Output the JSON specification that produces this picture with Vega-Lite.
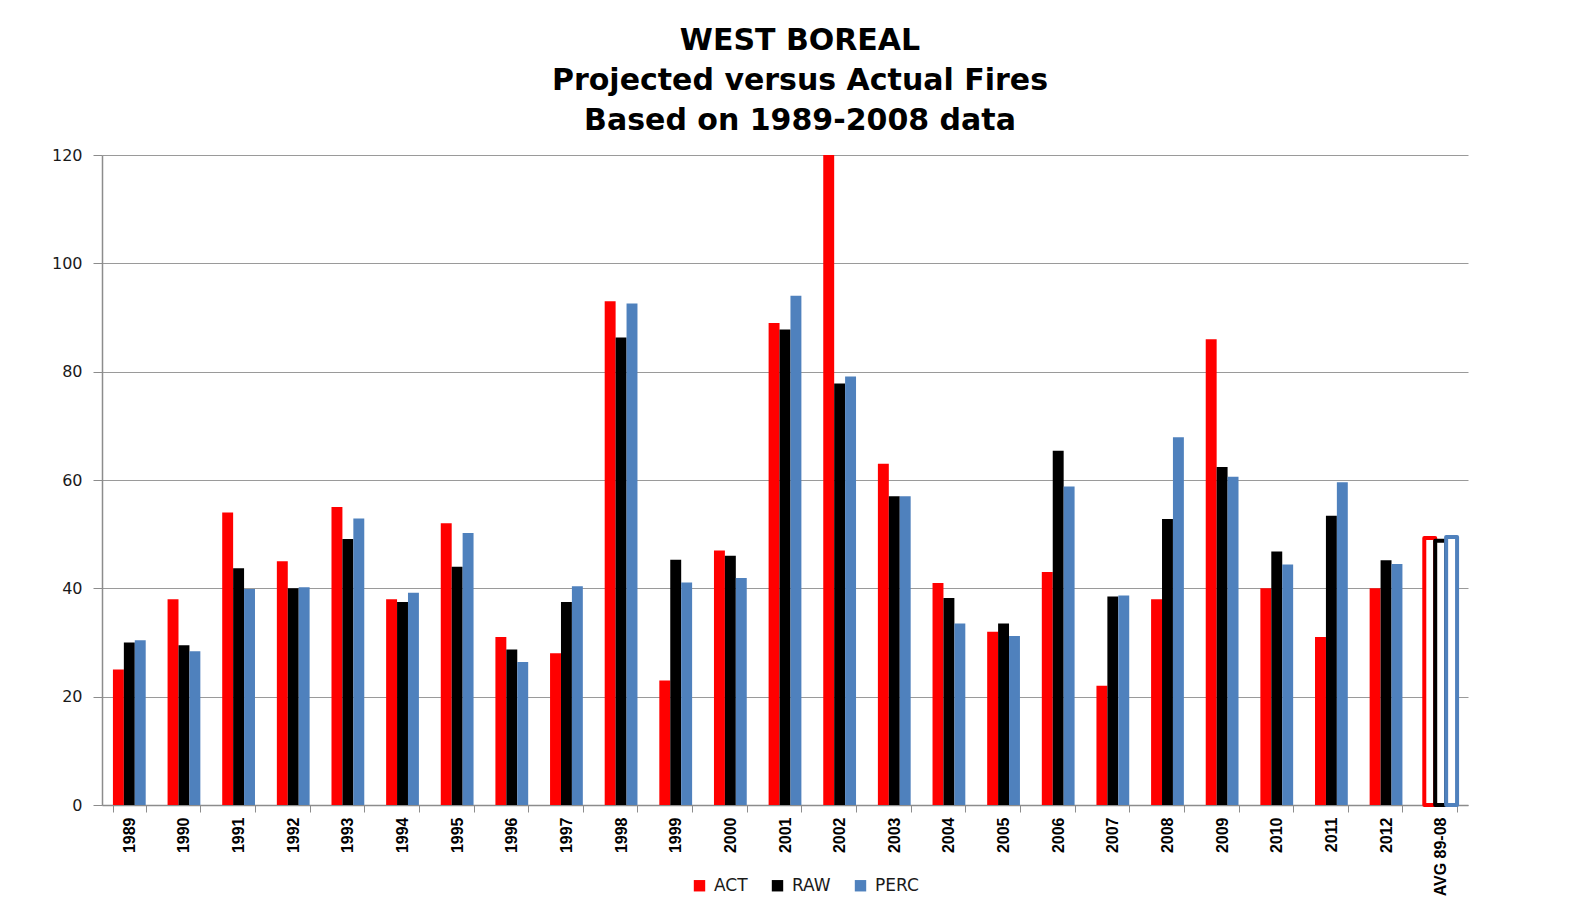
{
  "$schema": "https://vega.github.io/schema/vega-lite/v6.json",
  "autosize": {"type": "none"},
  "width": 1366,
  "height": 650,
  "padding": {"left": 102, "top": 155, "right": 109, "bottom": 105},
  "background": "#ffffff",
  "title": {
    "text": ["WEST BOREAL", "Projected versus Actual Fires", "Based on 1989-2008 data"],
    "font": "DejaVu Sans",
    "fontSize": 30,
    "fontWeight": "bold",
    "lineHeight": 40,
    "color": "#000000",
    "anchor": "middle",
    "frame": "group",
    "dx": 15,
    "offset": 11
  },
  "data": {
    "values": [
      {"year": "1989", "ACT": 25, "RAW": 30.0, "PERC": 30.4},
      {"year": "1990", "ACT": 38, "RAW": 29.5, "PERC": 28.4},
      {"year": "1991", "ACT": 54, "RAW": 43.7, "PERC": 39.9},
      {"year": "1992", "ACT": 45, "RAW": 40.0, "PERC": 40.2},
      {"year": "1993", "ACT": 55, "RAW": 49.1, "PERC": 52.9},
      {"year": "1994", "ACT": 38, "RAW": 37.5, "PERC": 39.2},
      {"year": "1995", "ACT": 52, "RAW": 44.0, "PERC": 50.2},
      {"year": "1996", "ACT": 31, "RAW": 28.7, "PERC": 26.4},
      {"year": "1997", "ACT": 28, "RAW": 37.5, "PERC": 40.4},
      {"year": "1998", "ACT": 93, "RAW": 86.3, "PERC": 92.6},
      {"year": "1999", "ACT": 23, "RAW": 45.3, "PERC": 41.1},
      {"year": "2000", "ACT": 47, "RAW": 46.0, "PERC": 41.9},
      {"year": "2001", "ACT": 89, "RAW": 87.8, "PERC": 94.0},
      {"year": "2002", "ACT": 129, "RAW": 77.8, "PERC": 79.1},
      {"year": "2003", "ACT": 63, "RAW": 57.0, "PERC": 57.0},
      {"year": "2004", "ACT": 41, "RAW": 38.2, "PERC": 33.5},
      {"year": "2005", "ACT": 32, "RAW": 33.5, "PERC": 31.2},
      {"year": "2006", "ACT": 43, "RAW": 65.4, "PERC": 58.8},
      {"year": "2007", "ACT": 22, "RAW": 38.5, "PERC": 38.7},
      {"year": "2008", "ACT": 38, "RAW": 52.8, "PERC": 67.9},
      {"year": "2009", "ACT": 86, "RAW": 62.4, "PERC": 60.6},
      {"year": "2010", "ACT": 40, "RAW": 46.8, "PERC": 44.4},
      {"year": "2011", "ACT": 31, "RAW": 53.4, "PERC": 59.6},
      {"year": "2012", "ACT": 40, "RAW": 45.2, "PERC": 44.5},
      {"year": "AVG 89-08", "ACT": 49.3, "RAW": 48.8, "PERC": 49.5}
    ]
  },
  "transform": [
    {"fold": ["ACT", "RAW", "PERC"], "as": ["series", "value"]}
  ],
  "encoding": {
    "x": {
      "field": "year",
      "type": "nominal",
      "sort": null,
      "title": null,
      "scale": {"paddingInner": 0.4, "paddingOuter": 0.2},
      "axis": {
        "labelAngle": 270,
        "labelAlign": "right",
        "labelBaseline": "middle",
        "labelFont": "Liberation Sans",
        "labelFontSize": 16,
        "labelFontWeight": "bold",
        "labelColor": "#000000",
        "labelPadding": 5,
        "tickBand": "extent",
        "tickSize": 7,
        "tickColor": "#8c8c8c",
        "domainColor": "#8c8c8c",
        "domainWidth": 1.5,
        "grid": false
      }
    },
    "xOffset": {"field": "series", "type": "nominal", "sort": ["ACT", "RAW", "PERC"]},
    "y": {
      "field": "value",
      "type": "quantitative",
      "title": null,
      "scale": {"domain": [0, 120], "nice": false},
      "axis": {
        "values": [0, 20, 40, 60, 80, 100, 120],
        "labelFont": "DejaVu Sans",
        "labelFontSize": 16,
        "labelColor": "#1a1a1a",
        "labelPadding": 11,
        "tickSize": 9,
        "tickColor": "#8c8c8c",
        "domainColor": "#8c8c8c",
        "domainWidth": 1.5,
        "gridColor": "#9a9a9a",
        "gridWidth": 1
      }
    }
  },
  "layer": [
    {
      "transform": [{"filter": "datum.year !== 'AVG 89-08'"}],
      "mark": {"type": "bar", "clip": true},
      "encoding": {
        "fill": {
          "field": "series",
          "type": "nominal",
          "sort": ["ACT", "RAW", "PERC"],
          "scale": {"domain": ["ACT", "RAW", "PERC"], "range": ["#ff0000", "#000000", "#4f81bd"]},
          "legend": {
            "title": null,
            "orient": "none",
            "direction": "horizontal",
            "legendX": 589,
            "legendY": 722,
            "padding": 0,
            "symbolType": "square",
            "symbolSize": 130,
            "symbolStrokeWidth": 0,
            "labelFont": "DejaVu Sans",
            "labelFontSize": 17,
            "labelColor": "#1a1a1a",
            "labelOffset": 6,
            "columnPadding": 21
          }
        }
      }
    },
    {
      "transform": [{"filter": "datum.year === 'AVG 89-08'"}],
      "mark": {"type": "bar", "fill": "#ffffff", "strokeWidth": 4, "strokeJoin": "round"},
      "encoding": {
        "stroke": {
          "field": "series",
          "type": "nominal",
          "scale": {"domain": ["ACT", "RAW", "PERC"], "range": ["#ff0000", "#000000", "#4f81bd"]},
          "legend": null
        }
      }
    }
  ],
  "config": {
    "view": {"stroke": null}
  }
}
